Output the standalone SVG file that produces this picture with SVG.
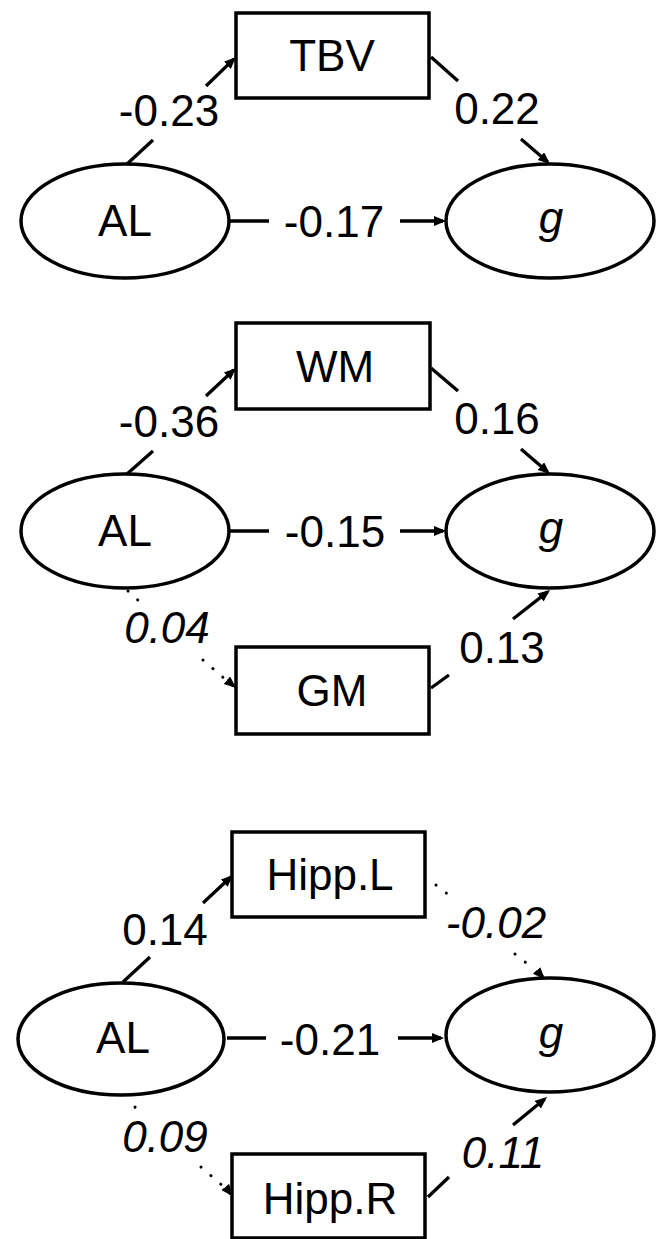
<svg xmlns="http://www.w3.org/2000/svg" width="662" height="1239" viewBox="0 0 662 1239">
<style>
.box{fill:#fff;stroke:#000;stroke-width:3.5}
.ell{fill:#fff;stroke:#000;stroke-width:3.5}
.t{font-family:"Liberation Sans",Arial,sans-serif;font-size:44px;fill:#000;text-anchor:middle}
.i{font-style:italic}
.ln{stroke:#000;stroke-width:3.3;fill:none}
.dot{stroke:#000;stroke-width:3;fill:none;stroke-dasharray:0.1 13;stroke-linecap:round}
</style>
<defs>
<marker id="ah" markerUnits="userSpaceOnUse" markerWidth="14" markerHeight="12" refX="9" refY="5" orient="auto">
<path d="M0,0 L12,5 L0,10 z" fill="#000"/>
</marker>
</defs>
<g id="connectors">
<!-- panel 1 -->
<line class="ln" x1="127" y1="164" x2="153" y2="140"/>
<line class="ln" x1="206" y1="86" x2="233.8" y2="59.1" marker-end="url(#ah)"/>
<line class="ln" x1="431" y1="57" x2="458" y2="81"/>
<line class="ln" x1="521" y1="139" x2="547.7" y2="162" marker-end="url(#ah)"/>
<line class="ln" x1="229" y1="221" x2="269" y2="221"/>
<line class="ln" x1="400" y1="221" x2="443" y2="221" marker-end="url(#ah)"/>
<!-- panel 2 -->
<line class="ln" x1="127" y1="474" x2="153" y2="451"/>
<line class="ln" x1="206" y1="396" x2="233.8" y2="370" marker-end="url(#ah)"/>
<line class="ln" x1="431" y1="368" x2="458" y2="391"/>
<line class="ln" x1="521" y1="449" x2="547.7" y2="472" marker-end="url(#ah)"/>
<line class="ln" x1="229" y1="531" x2="269" y2="531"/>
<line class="ln" x1="400" y1="531" x2="443" y2="531" marker-end="url(#ah)"/>
<line class="dot" x1="128" y1="591" x2="140" y2="602"/>
<line class="dot" x1="203" y1="660" x2="226" y2="680"/>
<line class="ln" x1="229" y1="682" x2="233.8" y2="686" marker-end="url(#ah)" stroke-width="2"/>
<line class="ln" x1="431" y1="688" x2="449" y2="675"/>
<line class="ln" x1="513" y1="619" x2="547.6" y2="591.9" marker-end="url(#ah)"/>
<!-- panel 3 -->
<line class="ln" x1="123" y1="982" x2="150" y2="957"/>
<line class="ln" x1="203" y1="903" x2="230.8" y2="877" marker-end="url(#ah)"/>
<line class="dot" x1="436" y1="885" x2="450" y2="896"/>
<line class="dot" x1="515" y1="954" x2="530" y2="966"/>
<line class="ln" x1="538" y1="972" x2="542.7" y2="977" marker-end="url(#ah)" stroke-width="2"/>
<line class="ln" x1="227" y1="1038" x2="266" y2="1038"/>
<line class="ln" x1="398" y1="1038" x2="441" y2="1038" marker-end="url(#ah)"/>
<line class="dot" x1="135" y1="1107" x2="137" y2="1109"/>
<line class="dot" x1="201" y1="1167" x2="224" y2="1187"/>
<line class="ln" x1="226" y1="1188" x2="230.8" y2="1194" marker-end="url(#ah)" stroke-width="2"/>
<line class="ln" x1="428" y1="1197" x2="449" y2="1177"/>
<line class="ln" x1="513" y1="1125" x2="544.7" y2="1098.9" marker-end="url(#ah)"/>
</g>
<g id="p1-TBV"><rect class="box" x="236" y="13" width="193" height="85"/><text class="t" x="332" y="71">TBV</text></g>
<g id="p1-AL"><ellipse class="ell" cx="125" cy="221" rx="104" ry="57"/><text class="t" x="125" y="236">AL</text></g>
<g id="p1-g"><ellipse class="ell" cx="550" cy="221" rx="104" ry="57"/><text class="t i" x="551" y="233">g</text></g>
<g id="p1-labels">
<text class="t" x="169" y="126">-0.23</text>
<text class="t" x="497" y="124">0.22</text>
<text class="t" x="334" y="237">-0.17</text>
</g>
<g id="p2-WM"><rect class="box" x="236" y="323" width="194" height="86"/><text class="t" x="335" y="382">WM</text></g>
<g id="p2-AL"><ellipse class="ell" cx="125" cy="531" rx="104" ry="57"/><text class="t" x="125" y="546">AL</text></g>
<g id="p2-g"><ellipse class="ell" cx="550" cy="531" rx="104" ry="57"/><text class="t i" x="551" y="543">g</text></g>
<g id="p2-GM"><rect class="box" x="236" y="647" width="193" height="87"/><text class="t" x="332" y="706">GM</text></g>
<g id="p2-labels">
<text class="t" x="169" y="437">-0.36</text>
<text class="t" x="497" y="434">0.16</text>
<text class="t" x="335" y="547">-0.15</text>
<text class="t i" x="167" y="643">0.04</text>
<text class="t" x="502" y="663">0.13</text>
</g>
<g id="p3-HippL"><rect class="box" x="232" y="832" width="193" height="85"/><text class="t" x="330" y="890">Hipp.L</text></g>
<g id="p3-AL"><ellipse class="ell" cx="121" cy="1039" rx="103" ry="56"/><text class="t" x="123" y="1053">AL</text></g>
<g id="p3-g"><ellipse class="ell" cx="550" cy="1035" rx="104" ry="57"/><text class="t i" x="551" y="1048">g</text></g>
<g id="p3-HippR"><rect class="box" x="232" y="1154" width="193" height="84"/><text class="t" x="330" y="1214">Hipp.R</text></g>
<g id="p3-labels">
<text class="t" x="165" y="945">0.14</text>
<text class="t i" x="496" y="938">-0.02</text>
<text class="t" x="330" y="1055">-0.21</text>
<text class="t i" x="165" y="1152">0.09</text>
<text class="t i" x="503" y="1168">0.11</text>
</g>
</svg>
